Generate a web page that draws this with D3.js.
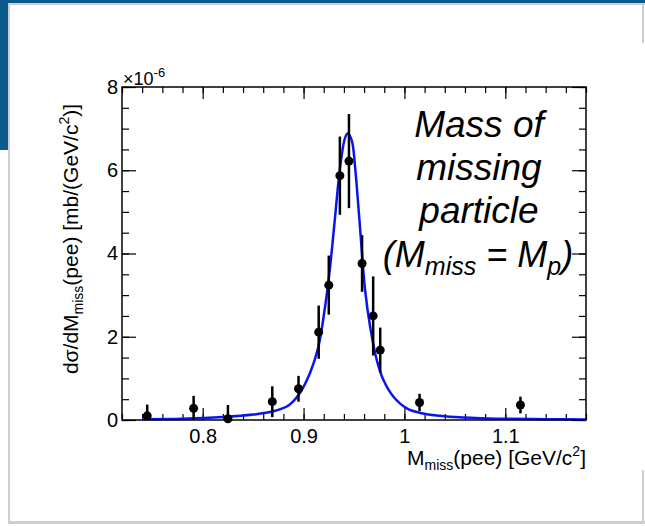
<!DOCTYPE html>
<html>
<head>
<meta charset="utf-8">
<script src="https://cdn.jsdelivr.net/npm/d3@7"></script>
<style>
  body { margin: 0; background: #fff; }
  svg { display: block; font-family: "Liberation Sans", Arial, sans-serif; }
</style>
</head>
<body>
<script>
// measured points: missing mass (GeV/c^2), cross section (x1e-6 mb/(GeV/c^2)), error
let massX = [0.745, 0.791, 0.825, 0.869, 0.895, 0.915, 0.925, 0.936, 0.945, 0.958, 0.969, 0.976, 1.015, 1.115];
let xsecY = [0.10, 0.28, 0.03, 0.44, 0.75, 2.11, 3.24, 5.87, 6.22, 3.76, 2.50, 1.68, 0.42, 0.36];
let xsecErr = [0.27, 0.30, 0.33, 0.37, 0.31, 0.64, 0.71, 0.94, 1.13, 0.68, 0.95, 0.54, 0.21, 0.20];

// fit curve
let fitX = [0.740, 0.780, 0.820, 0.850, 0.870, 0.885, 0.895, 0.9064, 0.9147, 0.9213, 0.9263, 0.9312, 0.9362,
  0.9413, 0.9438, 0.9478, 0.9511, 0.9544, 0.9577, 0.9610, 0.9660, 0.9726, 0.9792, 0.9891, 1.0024, 1.0156,
  1.040, 1.070, 1.100, 1.140, 1.180];
let fitY = [0.02, 0.03, 0.07, 0.13, 0.21, 0.35, 0.60, 1.13, 1.76, 2.72, 3.68, 4.87, 6.07,
  6.79, 6.88, 6.71, 6.07, 5.11, 4.08, 3.12, 2.24, 1.44, 0.96, 0.56, 0.28, 0.17,
  0.09, 0.05, 0.03, 0.02, 0.01];

let xTicks = [0.8, 0.9, 1.0, 1.1];
let xTickLabels = ["0.8", "0.9", "1", "1.1"];
let yTicks = [0, 2, 4, 6, 8];
let yTickLabels = ["0", "2", "4", "6", "8"];

let width = 645;
let height = 526;
let plotL = 122, plotR = 586, plotT = 87, plotB = 420;

let xScale = d3.scaleLinear().domain([0.72, 1.18]).range([plotL, plotR]);
let yScale = d3.scaleLinear().domain([0, 8]).range([plotB, plotT]);

let svg = d3.select("body").append("svg")
  .attr("width", width)
  .attr("height", height);

// slide background
svg.append("rect").attr("width", width).attr("height", height).attr("fill", "#fff");
svg.append("rect").attr("x", 0).attr("y", 0).attr("width", width).attr("height", 3).attr("fill", "#0b5a8c");
svg.append("rect").attr("x", 0).attr("y", 0).attr("width", 8).attr("height", 150).attr("fill", "#0b5a8c");
let border = svg.append("g").attr("stroke", "#cfcfcf").attr("fill", "none");
border.append("line").attr("x1", 9).attr("x2", 9).attr("y1", 3).attr("y2", 524).attr("stroke-width", 2);
border.append("line").attr("x1", 8).attr("x2", 645).attr("y1", 4).attr("y2", 4).attr("stroke-width", 2);
border.append("line").attr("x1", 8).attr("x2", 645).attr("y1", 522.5).attr("y2", 522.5).attr("stroke-width", 3);
border.append("line").attr("x1", 643).attr("x2", 643).attr("y1", 3).attr("y2", 43).attr("stroke-width", 2);
border.append("line").attr("x1", 643).attr("x2", 643).attr("y1", 470).attr("y2", 524).attr("stroke-width", 2);

// axes, ROOT style: ticks inward on all four sides
let xMinor = d3.range(0.72, 1.181, 0.02);
let yMinor = d3.range(0, 8.01, 0.5);

let drawAxis = (axis, tx, ty) => {
  let g = svg.append("g").attr("transform", `translate(${tx},${ty})`).call(axis);
  g.select(".domain").remove();
  g.selectAll("line").attr("stroke", "#000").attr("stroke-width", 1.2);
  return g;
};

drawAxis(d3.axisBottom(xScale).tickValues(xMinor).tickSize(-6).tickFormat(""), 0, plotB);
drawAxis(d3.axisTop(xScale).tickValues(xMinor).tickSize(-6).tickFormat(""), 0, plotT);
drawAxis(d3.axisLeft(yScale).tickValues(yMinor).tickSize(-7).tickFormat(""), plotL, 0);
drawAxis(d3.axisRight(yScale).tickValues(yMinor).tickSize(-7).tickFormat(""), plotR, 0);

let xAxis = drawAxis(
  d3.axisBottom(xScale).tickValues(xTicks).tickSize(-12).tickPadding(9)
    .tickFormat((d, i) => xTickLabels[i]), 0, plotB);
drawAxis(d3.axisTop(xScale).tickValues(xTicks).tickSize(-12).tickFormat(""), 0, plotT);
let yAxis = drawAxis(
  d3.axisLeft(yScale).tickValues(yTicks).tickSize(-14).tickPadding(4)
    .tickFormat((d, i) => yTickLabels[i]), plotL, 0);
drawAxis(d3.axisRight(yScale).tickValues(yTicks).tickSize(-14).tickFormat(""), plotR, 0);

xAxis.selectAll("text").attr("font-size", 20).attr("fill", "#000")
  .attr("font-family", "Liberation Sans, Arial, sans-serif");
yAxis.selectAll("text").attr("font-size", 20).attr("fill", "#000")
  .attr("font-family", "Liberation Sans, Arial, sans-serif");

// fit curve
let line = d3.line()
  .x((d) => xScale(d[0]))
  .y((d) => yScale(d[1]))
  .curve(d3.curveCatmullRom);
svg.append("path")
  .datum(d3.zip(fitX, fitY))
  .attr("d", line)
  .attr("fill", "none")
  .attr("stroke", "#0a14ee")
  .attr("stroke-width", 2.5);

// frame
svg.append("rect")
  .attr("x", plotL).attr("y", plotT)
  .attr("width", plotR - plotL).attr("height", plotB - plotT)
  .attr("fill", "none").attr("stroke", "#000").attr("stroke-width", 1.5);

// data points with error bars
let pts = d3.range(massX.length);
svg.selectAll(".err")
  .data(pts)
  .enter()
  .append("line")
  .attr("x1", (i) => xScale(massX[i]))
  .attr("x2", (i) => xScale(massX[i]))
  .attr("y1", (i) => yScale(Math.min(8, xsecY[i] + xsecErr[i])))
  .attr("y2", (i) => yScale(Math.max(0, xsecY[i] - xsecErr[i])))
  .attr("stroke", "#000")
  .attr("stroke-width", 2.5);
svg.selectAll(".pt")
  .data(pts)
  .enter()
  .append("circle")
  .attr("cx", (i) => xScale(massX[i]))
  .attr("cy", (i) => yScale(xsecY[i]))
  .attr("r", 4.5)
  .attr("fill", "#000");

// exponent label
let expo = svg.append("text").attr("x", plotL + 1).attr("y", 85).attr("font-size", 18).attr("fill", "#000");
expo.append("tspan").text("×10");
expo.append("tspan").attr("dy", -8).attr("font-size", 13).text("-6");

// axis titles
let xt = svg.append("text")
  .attr("x", plotR).attr("y", 465)
  .attr("text-anchor", "end")
  .attr("font-size", 21);
xt.append("tspan").text("M");
xt.append("tspan").attr("font-size", 14).attr("dy", 5).text("miss");
xt.append("tspan").attr("dy", -5).text("(pee) [GeV/c");
xt.append("tspan").attr("font-size", 14).attr("dy", -9).text("2");
xt.append("tspan").attr("dy", 9).text("]");

let yt = svg.append("text")
  .attr("transform", "translate(78,239) rotate(-90)")
  .attr("text-anchor", "middle")
  .attr("font-size", 21);
yt.append("tspan").text("dσ/dM");
yt.append("tspan").attr("font-size", 14).attr("dy", 5).text("miss");
yt.append("tspan").attr("dy", -5).text("(pee) [mb/(GeV/c");
yt.append("tspan").attr("font-size", 14).attr("dy", -9).text("2");
yt.append("tspan").attr("dy", 9).text(")]");

// annotation
let note = svg.append("text")
  .attr("text-anchor", "middle")
  .attr("font-size", 37)
  .attr("font-style", "italic")
  .attr("fill", "#000");
let noteLines = ["Mass of", "missing", "particle"];
noteLines.forEach((t, i) => {
  note.append("tspan").attr("x", 479).attr("y", 137 + i * 43).text(t);
});
let last = svg.append("text")
  .attr("x", 478).attr("y", 267)
  .attr("text-anchor", "middle")
  .attr("font-size", 36)
  .attr("font-style", "italic");
last.append("tspan").text("(M");
last.append("tspan").attr("font-size", 25).attr("dy", 8).text("miss");
last.append("tspan").attr("dy", -8).text(" = M");
last.append("tspan").attr("font-size", 25).attr("dy", 8).text("p");
last.append("tspan").attr("dy", -8).text(")");
</script>
</body>
</html>
